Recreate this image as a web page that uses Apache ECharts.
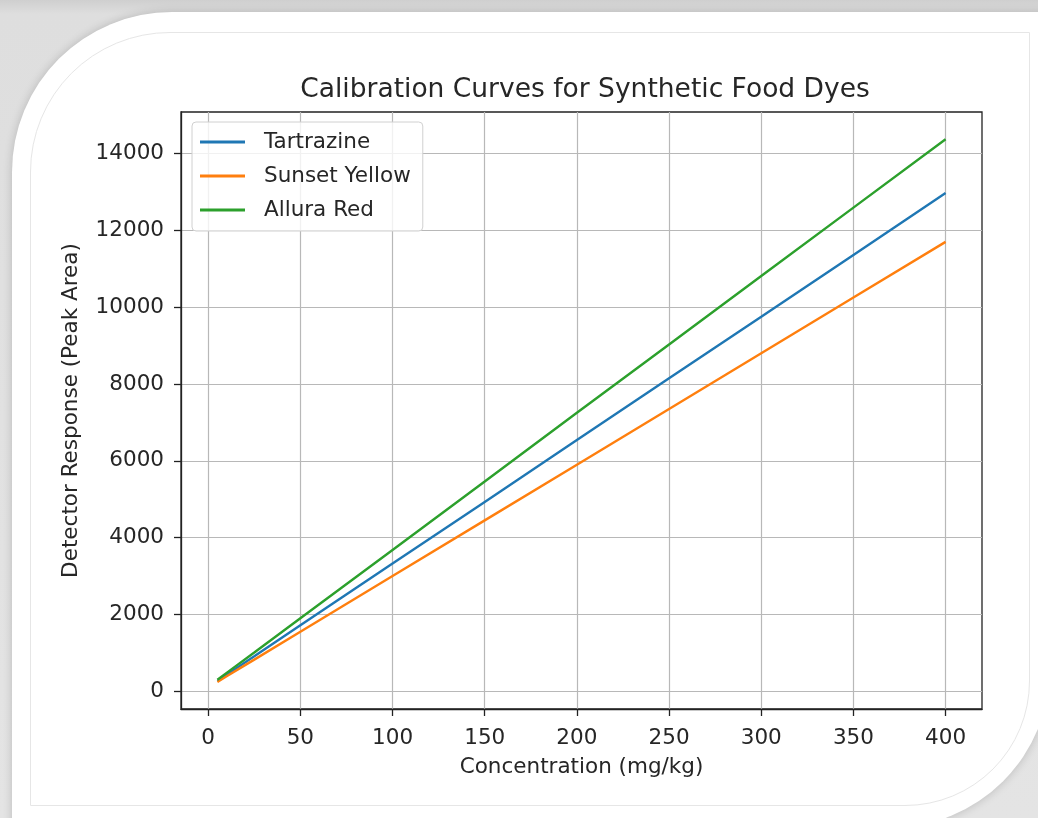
<!DOCTYPE html>
<html>
<head>
<meta charset="utf-8">
<title>Calibration Curves for Synthetic Food Dyes</title>
<script src="https://cdn.jsdelivr.net/npm/echarts@6/dist/echarts.min.js"></script>
<style>
  html, body { margin: 0; padding: 0; }
  body {
    width: 1038px; height: 818px; overflow: hidden; position: relative;
    background: linear-gradient(180deg, #cfcfcf 0px, #dedede 14px, #e4e4e4 100%);
  }
  .panel {
    position: absolute; left: 12px; top: 12px; width: 1038px; height: 816px;
    background: #fff;
    border-radius: 160px 0 160px 0;
    box-shadow: 0 0 10px rgba(0, 0, 0, 0.18);
  }
  .inner {
    position: absolute; left: 30px; top: 32px; width: 998px; height: 772px;
    border: 1px solid #e6e6e6;
    border-radius: 140px 0 125px 0;
  }
  #chart { position: absolute; left: 0; top: 0; width: 1038px; height: 818px; }
</style>
</head>
<body>
<div class="panel"></div>
<div class="inner"></div>
<div id="chart"></div>
<script>
// concentration (mg/kg)
const concentrations = [5, 10, 25, 50, 100, 150, 200, 250, 300, 350, 400];
// detector response (peak area)
const tartrazine   = [270, 430, 910, 1720, 3330, 4930, 6540, 8150, 9750, 11360, 12970];
const sunsetYellow = [245, 390, 825, 1550, 3000, 4450, 5900, 7350, 8800, 10250, 11700];
const alluraRed    = [300, 480, 1010, 1900, 3680, 5460, 7250, 9030, 10810, 12590, 14370];

const xTicks = [0, 50, 100, 150, 200, 250, 300, 350, 400];
const yTicks = [0, 2000, 4000, 6000, 8000, 10000, 12000, 14000];

const font = 'DejaVu Sans';
const textColor = '#262626';
const fontSize = 21.5;

let pairs = (ys) => concentrations.map((x, i) => [x, ys[i]]);

let chart = echarts.init(document.getElementById('chart'), null, { renderer: 'canvas' });

let lineSeries = (name, color, ys) => ({
  name: name,
  type: 'line',
  data: pairs(ys),
  showSymbol: false,
  symbol: 'none',
  lineStyle: { color: color, width: 2.4 },
  itemStyle: { color: color },
  emphasis: { disabled: true },
  z: 3
});

chart.setOption({
  animation: false,
  backgroundColor: 'transparent',
  textStyle: { fontFamily: font },
  title: {
    text: 'Calibration Curves for Synthetic Food Dyes',
    left: 580, top: 72, textAlign: 'center',
    textStyle: { fontFamily: font, fontSize: 26.5, fontWeight: 'normal', color: textColor }
  },
  legend: {
    orient: 'vertical',
    left: 192, top: 122,
    padding: [9, 12, 10, 8],
    itemGap: 12,
    itemWidth: 45,
    itemHeight: 3,
    icon: 'rect',
    backgroundColor: 'rgba(255,255,255,0.8)',
    borderColor: '#d0d0d0',
    borderWidth: 1,
    borderRadius: 4,
    textStyle: { fontFamily: font, fontSize: fontSize, color: textColor, padding: [0, 0, 0, 14] },
    data: ['Tartrazine', 'Sunset Yellow', 'Allura Red']
  },
  grid: {
    left: 181, right: 56, top: 112, bottom: 109,
    show: true, borderColor: '#222', borderWidth: 1.3,
    containLabel: false
  },
  xAxis: {
    type: 'value',
    min: -14.75, max: 419.75,
    name: 'Concentration (mg/kg)',
    nameLocation: 'middle',
    nameGap: 47,
    nameTextStyle: { fontFamily: font, fontSize: fontSize, color: textColor },
    axisLine: { show: true, onZero: false, lineStyle: { color: '#222', width: 1.3 } },
    axisTick: { show: true, length: 7, inside: false, customValues: xTicks, lineStyle: { color: '#222', width: 1.3 } },
    axisLabel: {
      customValues: xTicks, margin: 18, fontFamily: font, fontSize: fontSize, color: textColor,
      formatter: (v) => String(v)
    },
    splitLine: { show: true, customValues: xTicks, lineStyle: { color: '#b8b8b8', width: 1.2 } }
  },
  yAxis: {
    type: 'value',
    min: -460, max: 15080,
    name: 'Detector Response (Peak Area)',
    nameLocation: 'middle',
    nameGap: 99,
    nameTextStyle: { fontFamily: font, fontSize: fontSize, color: textColor },
    axisLine: { show: true, onZero: false, lineStyle: { color: '#222', width: 1.3 } },
    axisTick: { show: true, length: 7, inside: false, customValues: yTicks, lineStyle: { color: '#222', width: 1.3 } },
    axisLabel: {
      customValues: yTicks, margin: 17, fontFamily: font, fontSize: fontSize, color: textColor,
      formatter: (v) => String(v)
    },
    splitLine: { show: true, customValues: yTicks, lineStyle: { color: '#b8b8b8', width: 1.2 } }
  },
  series: [
    lineSeries('Tartrazine', '#1f77b4', tartrazine),
    lineSeries('Sunset Yellow', '#ff7f0e', sunsetYellow),
    lineSeries('Allura Red', '#2ca02c', alluraRed)
  ]
});
</script>
</body>
</html>
